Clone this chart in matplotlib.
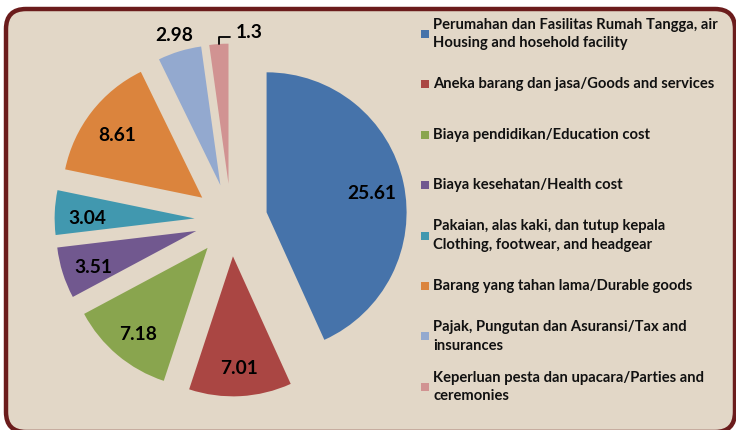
import numpy as np
import matplotlib.pyplot as plt
from matplotlib.patches import FancyBboxPatch, Rectangle
from matplotlib.transforms import IdentityTransform

# data
values = [25.61, 7.01, 7.18, 3.51, 3.04, 8.61, 2.98, 1.3]
value_labels = ['25.61', '7.01', '7.18', '3.51', '3.04', '8.61', '2.98', '1.3']
legend_labels = [
    'Perumahan dan Fasilitas Rumah Tangga, air\nHousing and hosehold facility',
    'Aneka barang dan jasa/Goods and services',
    'Biaya pendidikan/Education cost',
    'Biaya kesehatan/Health cost',
    'Pakaian, alas kaki, dan tutup kepala\nClothing, footwear, and headgear',
    'Barang yang tahan lama/Durable goods',
    'Pajak, Pungutan dan Asuransi/Tax and\ninsurances',
    'Keperluan pesta dan upacara/Parties and\nceremonies',
]
colors = ['#4673aa', '#aa4643', '#89a54e', '#71588f',
          '#4198af', '#db843d', '#93a9cf', '#d19392']

plt.rcParams['font.family'] = ['Lato', 'DejaVu Sans']

W, H = 736, 430
fig = plt.figure(figsize=(W / 100, H / 100), dpi=100)
fig.patch.set_facecolor('white')

# rounded frame, in pixels (y from bottom)
frame = FancyBboxPatch((6, -2), 729, 423,
                       boxstyle='round,pad=0,rounding_size=20',
                       transform=IdentityTransform(), facecolor='#e2d7c7',
                       edgecolor='#6b1c1c', linewidth=3.2, zorder=-1)
fig.patches.append(frame)

ax = fig.add_axes([0, 0, 1, 1], zorder=1)
ax.set_facecolor('none')
R = 140.0  # pixels per unit radius
cx, cy = 231.0, 220.0

wedges, _ = ax.pie(values, colors=colors, startangle=90, counterclock=False,
                   explode=[0.26] * len(values), radius=1,
                   wedgeprops=dict(linewidth=0))
ax.set_aspect('auto')
ax.set_xlim(-cx / R, (W - cx) / R)
ax.set_ylim(-(H - cy) / R, cy / R)
ax.axis('off')

for i, w in enumerate(wedges):
    mid = np.deg2rad((w.theta1 + w.theta2) / 2)
    x0, y0 = w.center
    if i == 6:
        ax.text(x0 + 1.12 * np.cos(mid), y0 + 1.12 * np.sin(mid), value_labels[i],
                ha='center', va='center', fontsize=13.8, fontweight='bold', color='black')
    elif i == 7:
        px, py = x0 + np.cos(mid), y0 + np.sin(mid)
        ax.annotate(value_labels[i], xy=(px, py), xytext=(22, 8),
                    textcoords='offset points', ha='center', va='center',
                    fontsize=13.8, fontweight='bold', color='black',
                    arrowprops=dict(arrowstyle='-', color='black', lw=1.3,
                                    relpos=(0, 0.25), shrinkA=2, shrinkB=0,
                                    connectionstyle='angle,angleA=0,angleB=90,rad=0'))
    else:
        ax.text(x0 + 0.77 * np.cos(mid), y0 + 0.77 * np.sin(mid) - 0.03, value_labels[i],
                ha='center', va='center', fontsize=13.8, fontweight='bold', color='black')

# legend on the right
ly = 34
for lab, c in zip(legend_labels, colors):
    fig.patches.append(Rectangle((421 / W, 1 - (ly + 4) / H), 8 / W, 8 / H,
                                 transform=fig.transFigure, facecolor=c,
                                 edgecolor='none', zorder=2))
    fig.text(433 / W, 1 - ly / H, lab, ha='left', va='center', zorder=2,
             fontsize=10.6, fontweight='bold', color='#111111', linespacing=1.4)
    ly += 50.4

fig.savefig('out.png', dpi=100, facecolor=fig.get_facecolor())
